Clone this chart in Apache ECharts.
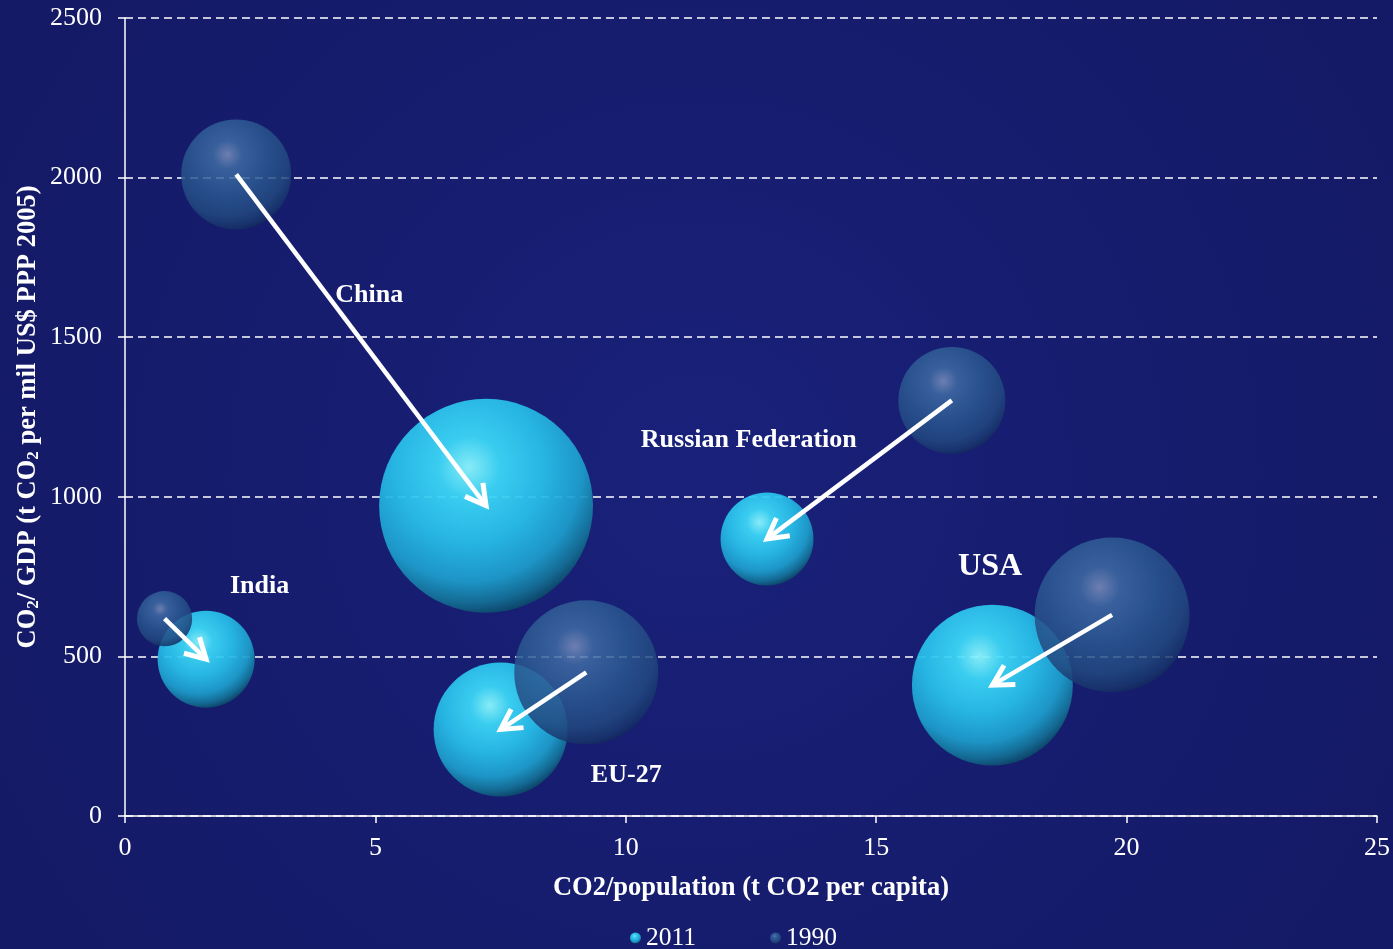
<!DOCTYPE html>
<html>
<head>
<meta charset="utf-8">
<title>CO2 intensity vs CO2 per capita</title>
<script src="https://cdn.jsdelivr.net/npm/echarts@6/dist/echarts.min.js"></script>
<style>
  html, body { margin: 0; padding: 0; background: #161d6e; }
  #chart { width: 1393px; height: 949px; }
</style>
</head>
<body>
<div id="chart"></div>
<script>
// Regions shown, in drawing order
const countries = ['China', 'India', 'Russian Federation', 'EU-27', 'USA'];
const years = ['2011', '1990'];

// CO2 per capita (t CO2 per person)
const perCapita1990 = [2.22, 0.79, 16.51, 9.21, 19.71];
const perCapita2011 = [7.21, 1.62, 12.82, 7.50, 17.32];

// CO2 per GDP (t CO2 per mil US$ PPP 2005)
const intensity1990 = [2010, 618, 1302, 450, 630];
const intensity2011 = [972, 491, 868, 271, 410];

// Total emissions (Gt CO2) -> bubble area
const emissions1990 = [2.38, 0.60, 2.25, 4.08, 4.72];
const emissions2011 = [9.00, 1.85, 1.70, 3.53, 5.09];

// Axis ticks
const xTicks = [0, 5, 10, 15, 20, 25];
const yTicks = [0, 500, 1000, 1500, 2000, 2500];

const serif = '"Liberation Serif", "Times New Roman", "DejaVu Serif", serif';

// Country label placement relative to the 1990 bubble (pixels)
const labelOffsets = {
  'China': [133, 121],
  'India': [95, -32],
  'Russian Federation': [-203, 40],
  'EU-27': [40, 103],
  'USA': [-122, -48]
};
const labelSizes = { 'USA': 32 };

function sphere(stops) {
  return {
    type: 'radial', x: 0.42, y: 0.32, r: 0.72,
    colorStops: stops.map(s => ({ offset: s[0], color: s[1] }))
  };
}

// Glossy ball fills: bright highlight top-left, darker rim bottom-right
const color2011 = sphere([
  [0, '#8ef8ff'], [0.2, '#3cd8f8'], [0.5, '#27bde9'],
  [0.74, '#1d9ccb'], [0.88, '#146f96'], [0.96, '#0d4a6c'], [1, '#0a3350']
]);
const color1990 = sphere([
  [0, '#7c8fbd'], [0.18, '#3f6ca4'], [0.5, '#2b5992'],
  [0.78, '#22487f'], [0.92, '#17346a'], [1, '#0f2250']
]);

const sizeOf = v => 71.3 * Math.sqrt(v[2]);

const pts2011 = countries.map((c, i) => [perCapita2011[i], intensity2011[i], emissions2011[i], c]);
const pts1990 = countries.map((c, i) => [perCapita1990[i], intensity1990[i], emissions1990[i], c]);
const arrows = countries.map((c, i) => [perCapita1990[i], intensity1990[i], perCapita2011[i], intensity2011[i]]);

function renderArrow(params, api) {
  const a = api.coord([api.value(0), api.value(1)]);
  const b = api.coord([api.value(2), api.value(3)]);
  const ang = Math.atan2(b[1] - a[1], b[0] - a[0]);
  const L = 23, spread = Math.PI / 6.2;
  const h1 = [b[0] - L * Math.cos(ang - spread), b[1] - L * Math.sin(ang - spread)];
  const h2 = [b[0] - L * Math.cos(ang + spread), b[1] - L * Math.sin(ang + spread)];
  const e = [b[0] - 3 * Math.cos(ang), b[1] - 3 * Math.sin(ang)];
  return {
    type: 'group',
    children: [
      { type: 'line', shape: { x1: a[0], y1: a[1], x2: e[0], y2: e[1] },
        style: { stroke: '#ffffff', lineWidth: 4.5, lineCap: 'butt' } },
      { type: 'polyline', shape: { points: [h1, b, h2] },
        style: { stroke: '#ffffff', fill: null, lineWidth: 5, lineJoin: 'miter' } }
    ]
  };
}

const chart = echarts.init(document.getElementById('chart'));
chart.setOption({
  animation: false,
  backgroundColor: {
    type: 'radial', x: 0.5, y: 0.5, r: 0.8,
    colorStops: [{ offset: 0, color: '#19217a' }, { offset: 1, color: '#141a66' }]
  },
  grid: { left: 125, right: 16, top: 18, bottom: 133, outerBoundsMode: 'none', containLabel: false },
  legend: {
    data: years,
    left: 625, bottom: -7,
    icon: 'circle', itemWidth: 11, itemHeight: 11, itemGap: 74,
    textStyle: { color: '#ffffff', fontFamily: serif, fontSize: 25.5, padding: [0, 0, 0, 0] }
  },
  xAxis: {
    type: 'value', min: xTicks[0], max: xTicks[xTicks.length - 1], interval: 5,
    name: 'CO2/population (t CO2 per capita)',
    nameLocation: 'middle', nameGap: 59,
    nameTextStyle: { color: '#ffffff', fontFamily: serif, fontSize: 26.5, fontWeight: 'bold' },
    axisLine: { lineStyle: { color: '#ffffff', width: 1.5 } },
    axisTick: { show: true, length: 7, lineStyle: { color: '#ffffff', width: 1.5 } },
    axisLabel: { color: '#ffffff', fontFamily: serif, fontSize: 26, margin: 19, formatter: v => String(v) },
    splitLine: { show: false }
  },
  yAxis: {
    type: 'value', min: yTicks[0], max: yTicks[yTicks.length - 1], interval: 500,
    name: '{n|CO}{s|2}{n|/ GDP (t CO}{s|2}{n| per mil US$ PPP 2005)}',
    nameLocation: 'middle', nameGap: 83, nameRotate: 90, nameMoveOverlap: false,
    nameTextStyle: {
      color: '#ffffff', fontFamily: serif, fontSize: 26.5, fontWeight: 'bold',
      rich: {
        n: { color: '#ffffff', fontFamily: serif, fontSize: 26.5, fontWeight: 'bold', lineHeight: 28, verticalAlign: 'bottom' },
        s: { color: '#ffffff', fontFamily: serif, fontSize: 17, fontWeight: 'bold', lineHeight: 9, verticalAlign: 'bottom' }
      }
    },
    axisLine: { show: true, lineStyle: { color: '#ffffff', width: 1.5 } },
    axisTick: { show: true, length: 7, lineStyle: { color: '#ffffff', width: 1.5 } },
    axisLabel: { color: '#ffffff', fontFamily: serif, fontSize: 26, margin: 23, formatter: v => String(v) },
    splitLine: { show: true, lineStyle: { color: '#ffffff', width: 1.5, type: [8, 5] } }
  },
  series: [
    {
      name: '2011', type: 'scatter', z: 2,
      data: pts2011, symbolSize: sizeOf,
      itemStyle: { color: color2011, opacity: 0.94 },
      emphasis: { disabled: true }
    },
    {
      name: '1990', type: 'scatter', z: 3,
      data: pts1990, symbolSize: sizeOf,
      itemStyle: { color: color1990, opacity: 0.85 },
      emphasis: { disabled: true }
    },
    {
      name: 'arrows', type: 'custom', z: 5,
      renderItem: renderArrow,
      encode: { x: [0, 2], y: [1, 3] },
      data: arrows, silent: true
    },
    {
      name: 'labels', type: 'scatter', z: 6, symbolSize: 0, silent: true,
      itemStyle: { opacity: 1 },
      data: pts1990.map(p => ({
        value: p,
        label: {
          show: true, position: 'inside', formatter: p[3],
          offset: labelOffsets[p[3]],
          color: '#ffffff', fontFamily: serif, fontWeight: 'bold',
          fontSize: labelSizes[p[3]] || 26
        }
      }))
    }
  ]
});
</script>
</body>
</html>
